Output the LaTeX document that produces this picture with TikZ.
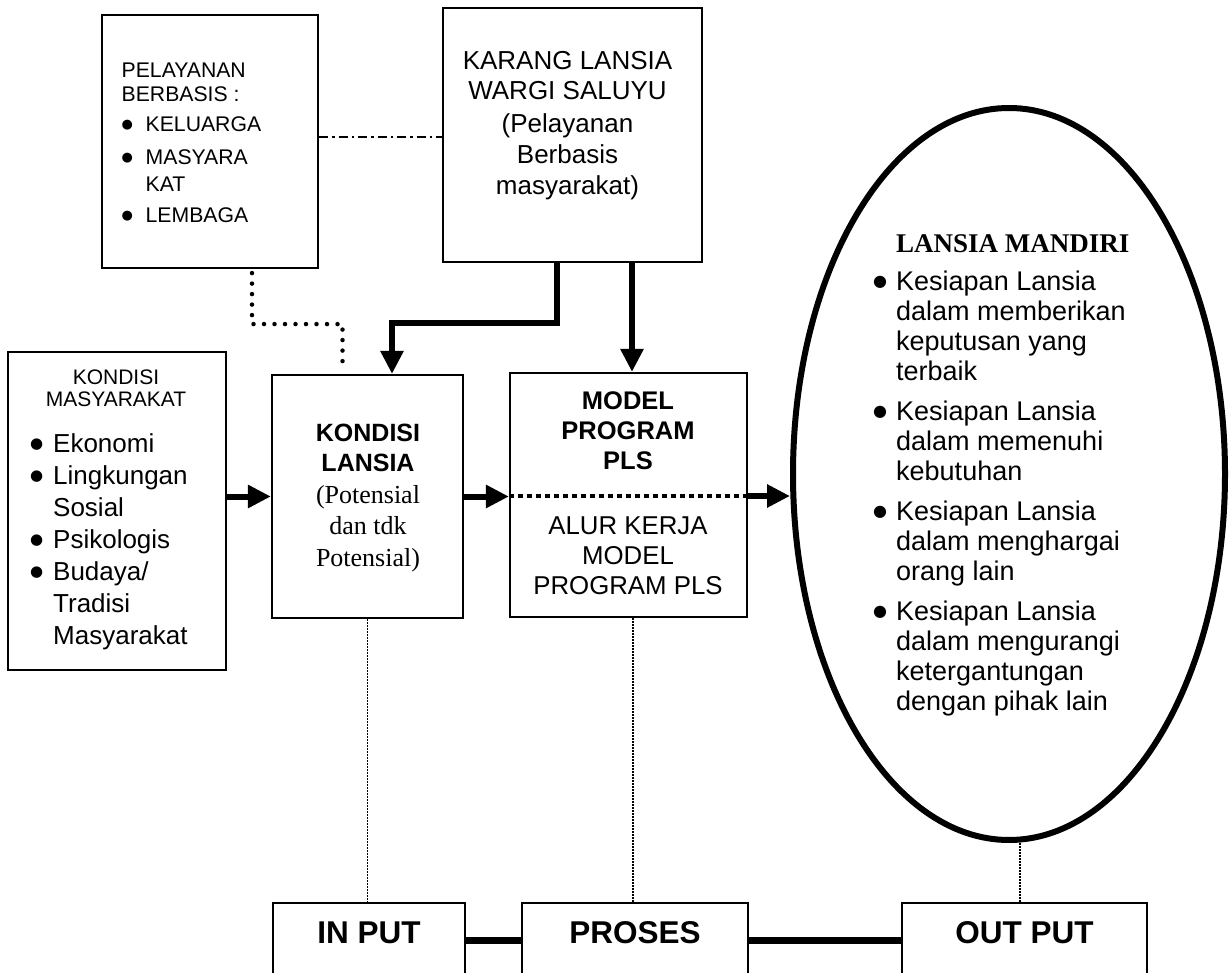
\documentclass[tikz,border=0pt]{standalone}
\usepackage{fontspec}
\setmainfont{Liberation Sans}
\newfontfamily\tnr{Liberation Serif}
\newfontfamily\dv{DejaVu Sans}
\usetikzlibrary{arrows.meta,shapes.geometric,calc}
\newcommand{\fs}[2]{\fontsize{#1}{#2}\selectfont}
\newcommand{\bulsize}{16}
\newcommand{\bulraise}{3pt}
\newcommand{\bul}{\raisebox{\bulraise}{\dv\fontsize{\bulsize}{\bulsize}\selectfont ●}}
\newcommand{\bl}[2]{\makebox[#1][l]{\bul}#2}
\begin{document}
\begin{tikzpicture}[x=1pt,y=-1pt,
  box/.style={draw,line width=2.2pt,rectangle,inner sep=0pt},
  txt/.style={inner sep=0pt,align=left},
  ctxt/.style={inner sep=0pt,align=center},
  bottomtxt/.style={font=\bfseries\fs{31.5}{36},text height=22.6pt,text depth=16.6pt},
  thickarrow/.style={line width=6pt,-{Triangle[length=23pt,width=22pt]}},
  vdot/.style={line width=1.1pt,dash pattern=on 1.5pt off 1.5pt},
  bigdot/.style={line width=4.5pt,line cap=round,dash pattern=on 0pt off 10.5pt},
  dashdotline/.style={line width=2pt,dash pattern=on 9pt off 4pt on 2.5pt off 4pt},
  middash/.style={line width=4pt,dash pattern=on 5pt off 4pt},
  thickline/.style={line width=7pt}]
\useasboundingbox (0,0) rectangle (1229,973);
\fill[white] (0,0) rectangle (1229,973);
\clip (0,0) rectangle (1229,973);

% boxes
\node[box,minimum width=216pt,minimum height=253pt] (pel) at (210,141.5) {};
\node[box,minimum width=259pt,minimum height=254pt] (kar) at (572.5,135) {};
\node[box,minimum width=218pt,minimum height=318pt] (mas) at (117,511) {};
\node[box,minimum width=191pt,minimum height=243pt] (lan) at (367.5,496.5) {};
\node[box,minimum width=237pt,minimum height=244pt] (mod) at (628.5,495) {};
\node[draw,ellipse,line width=6pt,minimum width=432pt,minimum height=732pt,inner sep=0pt] (mandiri) at (1009,474) {};
\node[box,bottomtxt,minimum width=192pt,minimum height=74pt] (input) at (369,940) {IN PUT};
\node[box,bottomtxt,minimum width=226pt,minimum height=74pt] (proses) at (635,940) {PROSES};
\node[box,bottomtxt,minimum width=245pt,minimum height=74pt] (output) at (1024.5,940) {OUT PUT};

% texts
\node[txt,anchor=north west,font={\fs{21.2}{24}\renewcommand{\bulsize}{13}\renewcommand{\bulraise}{3pt}}] (peltxt) at (121.5,63) {PELAYANAN\\BERBASIS :\\[6pt]\bl{24pt}{KELUARGA}\\[9pt]\bl{24pt}{MASYARA}\\[3pt]\hspace*{24pt}KAT\\[7pt]\bl{24pt}{LEMBAGA}};
\node[ctxt,anchor=north,font=\fs{26}{31}] (kartxt) at (567.5,51.4) {KARANG LANSIA\\[-1pt]WARGI SALUYU\\[2pt](Pelayanan\\Berbasis\\masyarakat)};
\node[ctxt,anchor=north,font=\fs{21}{22}] (mastitle) at (116,370) {KONDISI\\MASYARAKAT};
\node[txt,anchor=north west,font={\fs{26}{32}\renewcommand{\bulsize}{15}\renewcommand{\bulraise}{3.5pt}}] (masitems) at (30,433.4) {\bl{23pt}{Ekonomi}\\\bl{23pt}{Lingkungan}\\\hspace*{23pt}Sosial\\\bl{23pt}{Psikologis}\\\bl{23pt}{Budaya/}\\\hspace*{23pt}Tradisi\\\hspace*{23pt}Masyarakat};
\node[ctxt,anchor=north,font=\bfseries\fs{25}{30}] (lantitle) at (368,424) {KONDISI\\LANSIA};
\node[ctxt,anchor=north,font=\tnr\fs{26}{31.5}] (lansub) at (368,485) {(Potensial\\dan tdk\\Potensial)};
\node[ctxt,anchor=north,font=\bfseries\fs{25.5}{30}] (modtitle) at (628,391.7) {MODEL\\PROGRAM\\PLS};
\node[ctxt,anchor=north,font=\fs{25.8}{30}] (modsub) at (628,516.5) {ALUR KERJA\\MODEL\\PROGRAM PLS};
\node[txt,anchor=north west,font=\tnr\bfseries\fs{27}{30}] (mantitle) at (896,234) {LANSIA MANDIRI};
\node[txt,anchor=north west,font={\fs{27}{30}\renewcommand{\bulsize}{16}\renewcommand{\bulraise}{3.5pt}}] (manitems) at (873,270.7) {\bl{23pt}{Kesiapan Lansia}\\\hspace*{23pt}dalam memberikan\\\hspace*{23pt}keputusan yang\\\hspace*{23pt}terbaik\\[10pt]\bl{23pt}{Kesiapan Lansia}\\\hspace*{23pt}dalam memenuhi\\\hspace*{23pt}kebutuhan\\[10pt]\bl{23pt}{Kesiapan Lansia}\\\hspace*{23pt}dalam menghargai\\\hspace*{23pt}orang lain\\[10pt]\bl{23pt}{Kesiapan Lansia}\\\hspace*{23pt}dalam mengurangi\\\hspace*{23pt}ketergantungan\\\hspace*{23pt}dengan pihak lain};

% connectors
\draw[dashdotline] ($(pel.east)+(0,-4.5)$) -- ($(kar.west)+(0,2)$);
\draw[bigdot] ($(pel.south)+(42,4)$) -- ++(0,51) -| ($(lan.north)+(-25,-4)$);
\draw[thickarrow] ($(kar.south)+(-15.5,0)$) -- ++(0,60) -| ($(lan.north)+(24.5,0)$);
\coordinate (mk) at ($(mod.north)+(3.5,0)$);
\draw[thickarrow] (mk |- kar.south) -- (mk);
\draw[thickarrow] (mas.east |- lan.west) -- (lan.west);
\draw[thickarrow] (lan.east) -- (lan.east -| mod.west);
\draw[middash] ($(mod.west)+(0,1)$) -- ($(mod.east)+(0,1)$);
\draw[thickarrow] ($(mod.east)+(0,1)$) -- ($(mod.east -| mandiri.west)+(0,1)$);
\draw[vdot] (lan.south) -- (lan.south |- input.north);
\coordinate (pk) at ($(proses.north)+(-2,0)$);
\draw[vdot] (pk |- mod.south) -- (pk);
\coordinate (oc) at ($(output.north)+(-4.5,0)$);
\draw[vdot] (oc |- mandiri.south) -- (oc);
\draw[thickline] (input.east) -- (proses.west);
\draw[thickline] (proses.east) -- (output.west);
\end{tikzpicture}
\end{document}
